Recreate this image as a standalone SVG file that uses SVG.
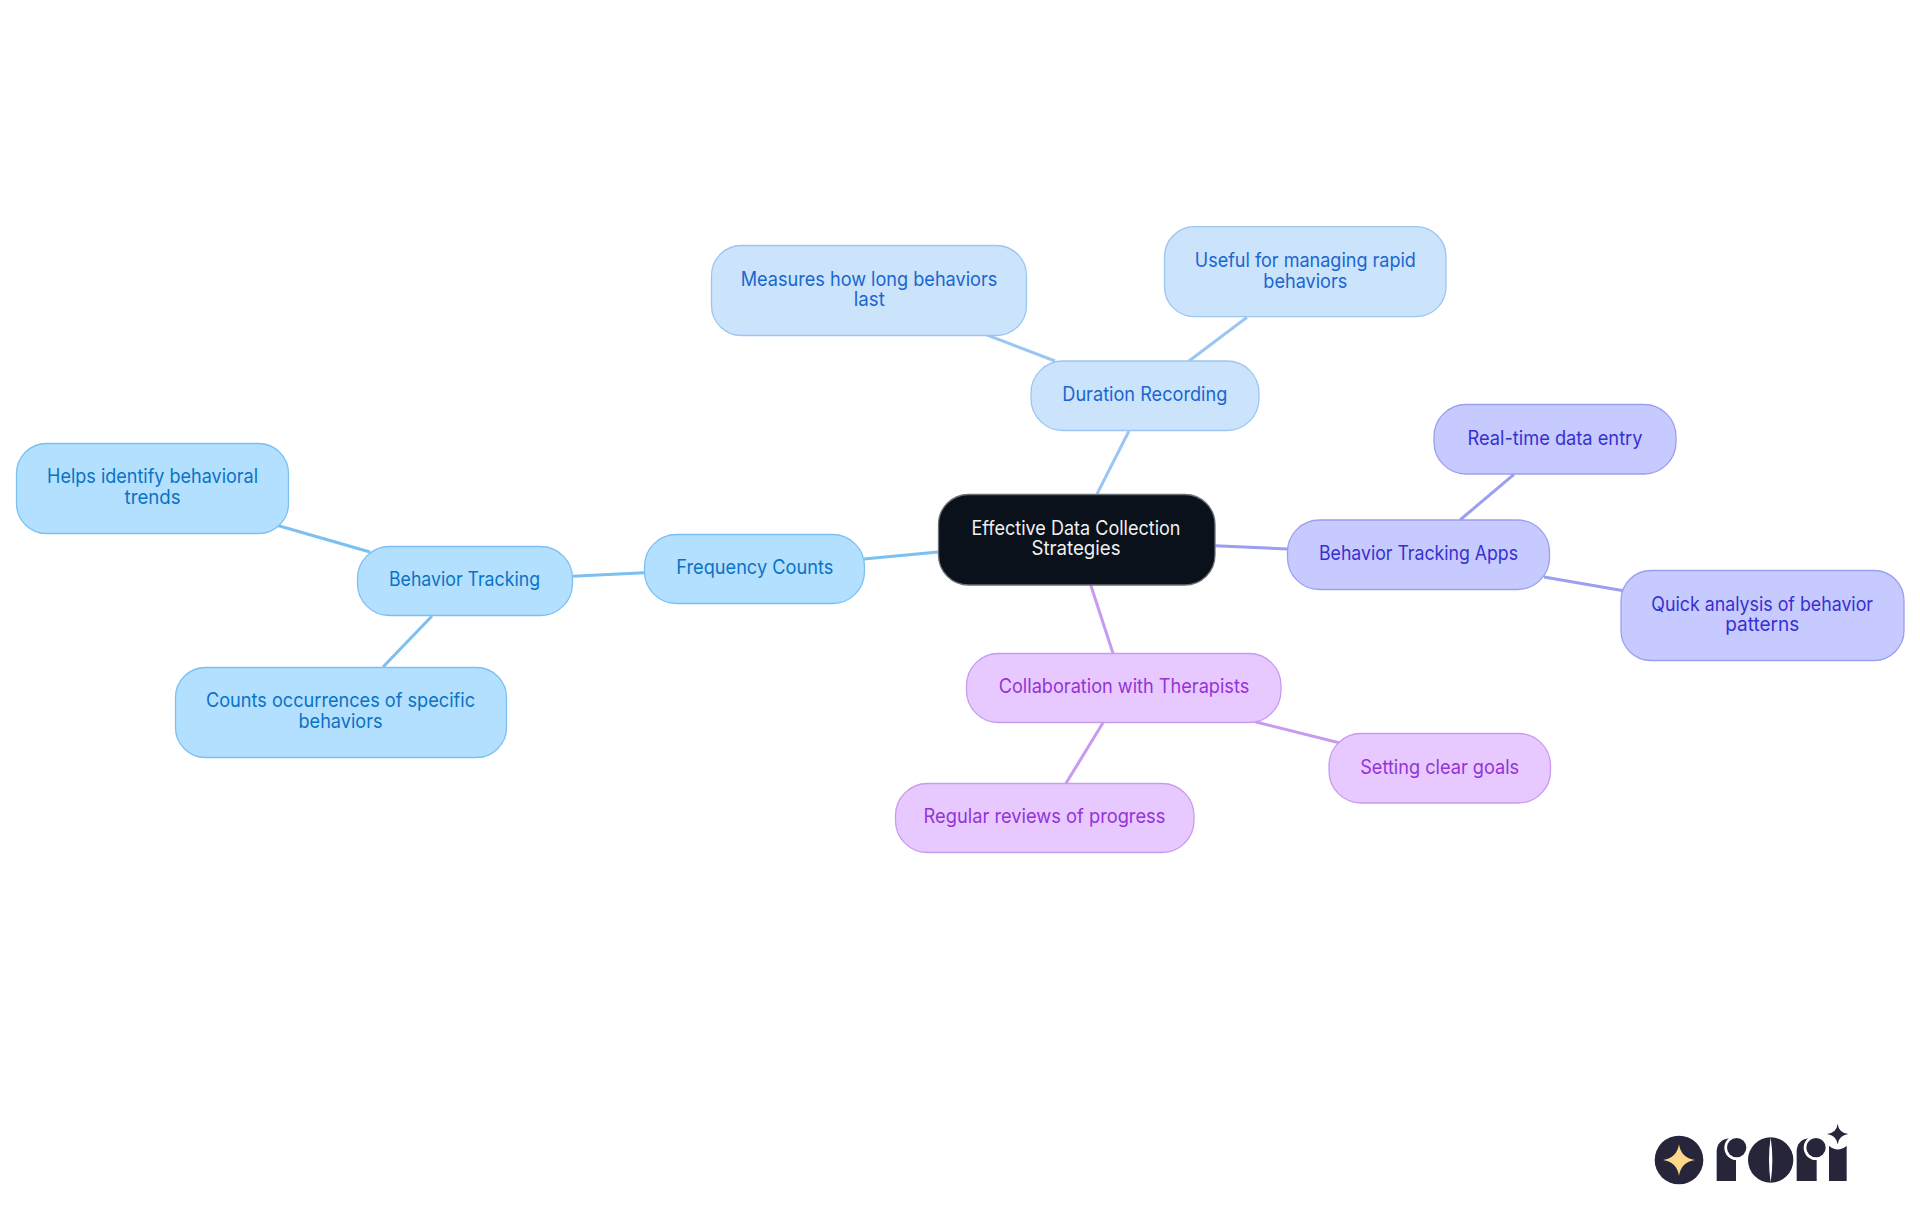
<svg xmlns="http://www.w3.org/2000/svg" width="1920" height="1215" viewBox="0 0 1920 1215">
<style>
text{font-family:"Inter","Noto Sans","Liberation Sans",sans-serif;font-size:19.4px;font-weight:400;text-anchor:middle}
rect{stroke-width:1.3}
#connectors line{stroke-width:3;fill:none}
.sky rect{fill:#b3e0ff;stroke:#7cc0f2}.sky text{fill:#0b72c4}
.blue rect{fill:#cce3fc;stroke:#9cc6f2}.blue text{fill:#1a66d0}
.indigo rect{fill:#c7caff;stroke:#9a9ff0}.indigo text{fill:#3730d0}
.purple rect{fill:#e8c9ff;stroke:#c89af0}.purple text{fill:#9333d8}
.root rect{fill:#0a111a;stroke:#6b7076}.root text{fill:#eef0f2}
.e-sky{stroke:#7cc0f2}.e-blue{stroke:#9cc6f2}.e-indigo{stroke:#9a9ff0}.e-purple{stroke:#c89af0}
.ink{fill:#26253a}.gold{fill:#fcd98a}.gap{fill:#fff}
</style>
<rect width="1920" height="1215" fill="#fff" stroke="none"/>
<g id="connectors">
<line class="e-blue" x1="1097" y1="494" x2="1129" y2="431"/>
<line class="e-sky" x1="864" y1="559" x2="938" y2="552"/>
<line class="e-sky" x1="572.7" y1="576.3" x2="644" y2="572.7"/>
<line class="e-sky" x1="276" y1="525" x2="370" y2="552"/>
<line class="e-sky" x1="432" y1="616" x2="383" y2="667"/>
<line class="e-blue" x1="986" y1="334.7" x2="1055" y2="361"/>
<line class="e-blue" x1="1247" y1="317.3" x2="1189" y2="361"/>
<line class="e-indigo" x1="1215" y1="545.7" x2="1288" y2="549"/>
<line class="e-indigo" x1="1514" y1="474.3" x2="1460" y2="520"/>
<line class="e-indigo" x1="1544" y1="577" x2="1625" y2="591"/>
<line class="e-purple" x1="1090.7" y1="585" x2="1113" y2="653.3"/>
<line class="e-purple" x1="1255" y1="721.7" x2="1340" y2="743"/>
<line class="e-purple" x1="1103" y1="722.7" x2="1066" y2="783.3"/>
</g>
<g id="root" class="root"><rect x="938.5" y="494.5" width="276.5" height="90.5" rx="30"/>
<text x="1076" y="535" textLength="209" lengthAdjust="spacingAndGlyphs">Effective Data Collection</text>
<text x="1076" y="555.4" textLength="89" lengthAdjust="spacingAndGlyphs">Strategies</text></g>
<g id="frequency" class="sky"><rect x="644.5" y="534.5" width="220" height="69" rx="32"/>
<text x="754.8" y="574.3" textLength="157" lengthAdjust="spacingAndGlyphs">Frequency Counts</text></g>
<g id="tracking" class="sky"><rect x="357.5" y="546.5" width="215" height="69" rx="32"/>
<text x="464.5" y="586.4" textLength="151" lengthAdjust="spacingAndGlyphs">Behavior Tracking</text></g>
<g id="helps" class="sky"><rect x="16.5" y="443.5" width="272" height="90" rx="30"/>
<text x="152.6" y="483.3" textLength="211" lengthAdjust="spacingAndGlyphs">Helps identify behavioral</text>
<text x="152.6" y="504.2" textLength="56" lengthAdjust="spacingAndGlyphs">trends</text></g>
<g id="counts" class="sky"><rect x="175.5" y="667.5" width="331" height="90" rx="30"/>
<text x="340.5" y="707.3" textLength="269" lengthAdjust="spacingAndGlyphs">Counts occurrences of specific</text>
<text x="340.5" y="728.4" textLength="84" lengthAdjust="spacingAndGlyphs">behaviors</text></g>
<g id="duration" class="blue"><rect x="1031" y="361" width="228" height="69.5" rx="32"/>
<text x="1144.8" y="401.4" textLength="165" lengthAdjust="spacingAndGlyphs">Duration Recording</text></g>
<g id="measures" class="blue"><rect x="711.5" y="245.5" width="315" height="90" rx="30"/>
<text x="869" y="285.6" textLength="256.6" lengthAdjust="spacingAndGlyphs">Measures how long behaviors</text>
<text x="869.3" y="306.2" textLength="31" lengthAdjust="spacingAndGlyphs">last</text></g>
<g id="useful" class="blue"><rect x="1164.5" y="226.7" width="281.5" height="90" rx="30"/>
<text x="1305.3" y="267" textLength="221" lengthAdjust="spacingAndGlyphs">Useful for managing rapid</text>
<text x="1305.3" y="287.7" textLength="84" lengthAdjust="spacingAndGlyphs">behaviors</text></g>
<g id="apps" class="indigo"><rect x="1287.5" y="520" width="262" height="69.5" rx="32"/>
<text x="1418.5" y="560.4" textLength="199" lengthAdjust="spacingAndGlyphs">Behavior Tracking Apps</text></g>
<g id="realtime" class="indigo"><rect x="1434" y="404.5" width="242" height="69.5" rx="32"/>
<text x="1555" y="445.3" textLength="175" lengthAdjust="spacingAndGlyphs">Real-time data entry</text></g>
<g id="quick" class="indigo"><rect x="1621" y="570.5" width="283" height="90" rx="30"/>
<text x="1762.2" y="610.9" textLength="221.7" lengthAdjust="spacingAndGlyphs">Quick analysis of behavior</text>
<text x="1762.2" y="631.2" textLength="74" lengthAdjust="spacingAndGlyphs">patterns</text></g>
<g id="collaboration" class="purple"><rect x="966.5" y="653.5" width="314.5" height="69" rx="32"/>
<text x="1124" y="693" textLength="250.5" lengthAdjust="spacingAndGlyphs">Collaboration with Therapists</text></g>
<g id="goals" class="purple"><rect x="1329" y="733.5" width="221.5" height="69.5" rx="32"/>
<text x="1439.7" y="774.3" textLength="159" lengthAdjust="spacingAndGlyphs">Setting clear goals</text></g>
<g id="reviews" class="purple"><rect x="895.5" y="783.5" width="298.5" height="69" rx="32"/>
<text x="1044.5" y="823" textLength="241.8" lengthAdjust="spacingAndGlyphs">Regular reviews of progress</text></g>
<g id="logo" transform="translate(1620 1100) scale(.33333)">
<circle class="ink" cx="177" cy="180" r="73"/>
<path class="gold" d="M177,133Q183,174 225,180Q183,186 177,228Q171,186 129,180Q171,174 177,133Z"/>
<path class="ink" d="M290,243V155Q290,120 330,114H348V243Z"/>
<circle class="gap" cx="350" cy="143" r="37"/>
<circle class="ink" cx="350" cy="143" r="29"/>
<circle class="ink" cx="452" cy="180" r="68"/>
<path class="gap" d="M452,112Q442,180 452,248Q462,180 452,112Z"/>
<path class="ink" d="M530,243V155Q530,120 568,114H590V243Z"/>
<circle class="gap" cx="588" cy="143" r="37"/>
<circle class="ink" cx="588" cy="143" r="29"/>
<path class="ink" d="M627,243V137Q653,160 680,137V243Z"/>
<path class="ink" d="M653,71Q656,98 685,102Q656,106 653,133Q650,106 621,102Q650,98 653,71Z"/>
</g>
</svg>
